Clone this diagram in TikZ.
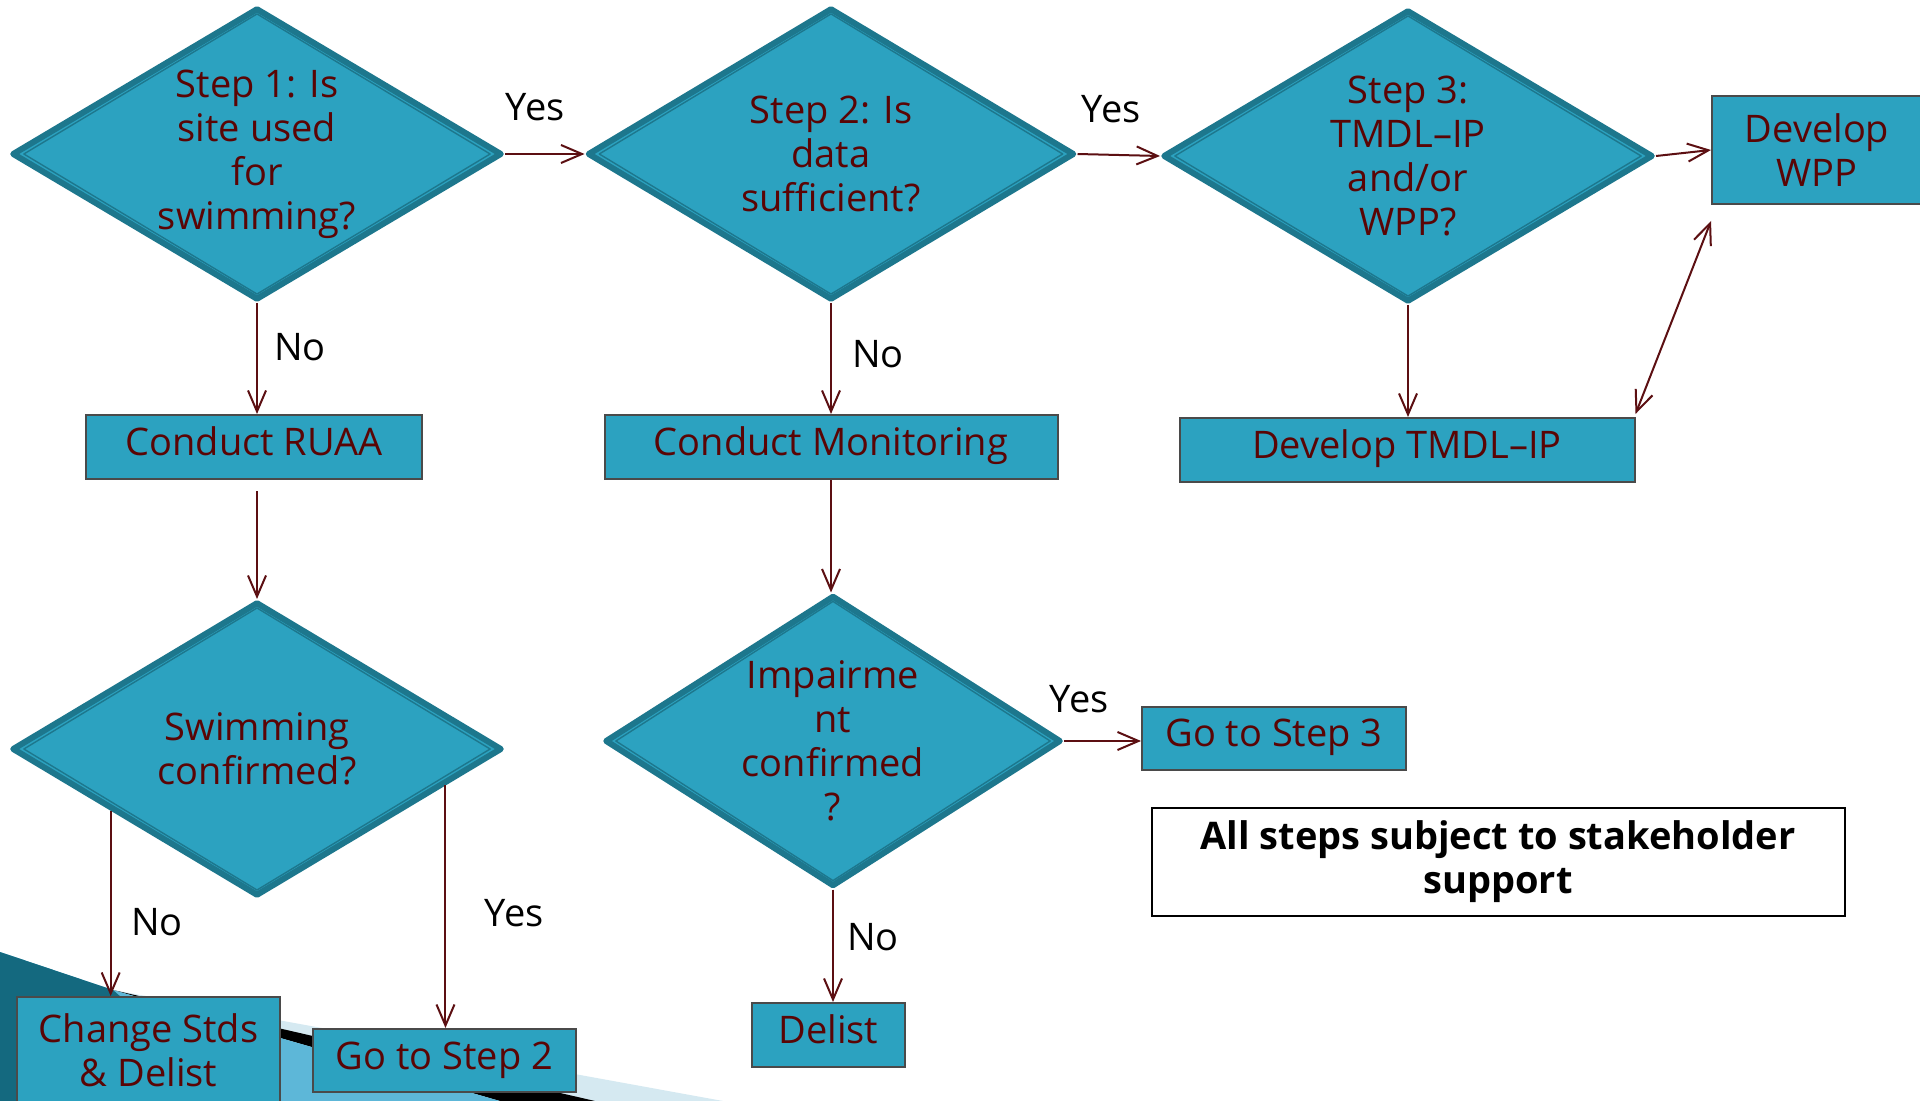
\documentclass[tikz,border=0pt]{standalone}
\usepackage{fontspec}
\setmainfont{Open Sans}
\usetikzlibrary{shapes.geometric,arrows.meta,calc}
\definecolor{tealfill}{HTML}{2CA2C0}
\definecolor{tealedge}{HTML}{1D778D}
\definecolor{boxedge}{HTML}{4A4A4A}
\definecolor{stepred}{HTML}{5A0505}
\definecolor{arrowred}{HTML}{5C0F12}
\definecolor{deepteal}{HTML}{14697F}
\definecolor{skyblue}{HTML}{5DB7D8}
\definecolor{paleblue}{HTML}{D5E9F1}
\newcommand\flowfont{\fontsize{19}{22}\selectfont}
\begin{document}
\begin{tikzpicture}[
            x=0.5pt, y=-0.5pt,
            every node/.style={font=\flowfont},
            >={Straight Barb[length=10.5pt,width=9pt]},
            decision/.style={diamond, draw=tealedge, line width=3pt, line join=round, fill=tealfill,
                text=stepred, align=center, inner sep=0pt, shape aspect=1.68,
                minimum width=245pt, minimum height=146pt},
            action/.style={rectangle, draw=boxedge, line width=1pt, fill=tealfill, text=stepred,
                align=center, minimum height=32pt},
            oneline/.style={action, execute at begin node=\strut},
            lbl/.style={text=black},
            flow/.style={draw=arrowred, line width=1pt, ->}
        ]
        \useasboundingbox (0,0) rectangle (1920,1101);
        \fill[white] (0,0) rectangle (1920,1101);
        % slide template swoosh
        \fill[paleblue] (113,990) -- (723,1101) -- (113,1101) -- cycle;
        \fill[black] (113,990) -- (595,1101) -- (500,1101) -- cycle;
        \fill[skyblue] (0,952) -- (113,990) -- (500,1101) -- (0,1101) -- cycle;
        \fill[deepteal] (0,952) -- (113,990) -- (240,1101) -- (0,1101) -- cycle;

        % decisions
        \node[decision] (d1) at (257,154) {Step 1: Is\\site used\\for\\swimming?};
        \node[decision, minimum width=243.5pt] (d2) at (831,154) {Step 2: Is\\data\\sufficient?};
        \node[decision] (d3) at (1408,156) {Step 3:\\TMDL–IP\\and/or\\WPP?};
        \node[decision, minimum height=147pt] (d4) at (257,749) {Swimming\\confirmed?};
        \node[decision, shape aspect=1.57, minimum width=228pt, minimum height=145.5pt] (d5) at (833,741) {Impairme\\nt\\confirmed\\?};
        \foreach \d in {d1,d2,d3,d4,d5}
            \draw[tealedge, line width=0.7pt, line join=round]
                ($(\d.center)!0.94!(\d.north)$) -- ($(\d.center)!0.94!(\d.east)$)
                -- ($(\d.center)!0.94!(\d.south)$) -- ($(\d.center)!0.94!(\d.west)$) -- cycle;

        % actions
        \node[action, minimum width=105pt, minimum height=54pt] (wpp) at (1817,150) {Develop\\WPP};
        \node[oneline, minimum width=168pt] (ruaa) at (254,447) {Conduct RUAA};
        \node[oneline, minimum width=226.5pt] (mon) at (831,447) {Conduct Monitoring};
        \node[oneline, minimum width=227.5pt] (tmdl) at (1407,450) {Develop TMDL–IP};
        \node[oneline, minimum width=132pt, minimum height=31.5pt] (gs3) at (1274,738) {Go to Step 3};
        \node[action, minimum width=131.5pt, minimum height=53pt] (chg) at (148.5,1050) {Change Stds\\\& Delist};
        \node[oneline, minimum width=131.5pt, minimum height=31.5pt] (gs2) at (444.5,1060.5) {Go to Step 2};
        \node[oneline, minimum width=76.5pt] (delist) at (828.5,1035) {Delist};
        \node[draw=black, line width=1pt, fill=white, align=center, font=\flowfont\bfseries,
            minimum width=346.5pt, minimum height=54pt] (note) at (1498,862)
            {All steps subject to stakeholder\\support};

        % connectors
        \coordinate (d4no) at ($(d4.west)!0.41!(d4.south)$);
        \coordinate (d4yes) at ($(d4.east)!0.24!(d4.south)$);
        \draw[flow] (d1.east) -- (d2.west);
        \draw[flow] (d2.east) -- (d3.west);
        \draw[flow] (d3.east) -- (wpp.west);
        \draw[flow] (d1.south) -- (d1.south |- ruaa.north);
        \draw[flow] (d2.south) -- (d2.south |- mon.north);
        \draw[flow] (d3.south) -- (d3.south |- tmdl.north);
        \draw[flow, <->] ([yshift=1.5pt]tmdl.north east) -- ([yshift=-8pt]wpp.south west);
        \draw[flow] ($(ruaa.south -| d4.north)+(0,11)$) -- (d4.north);
        \draw[flow] (mon.south) -- (mon.south |- d5.north);
        \draw[flow] (d4no) -- (d4no |- chg.north);
        \draw[flow] (d4yes) -- (d4yes |- gs2.north);
        \draw[flow] (d5.east) -- (d5.east -| gs3.west);
        \draw[flow] (d5.south) -- (d5.south |- delist.north);

        % branch labels
        \node[lbl] (yes1) at (535,107) {Yes};
        \node[lbl] (yes2) at (1111,109) {Yes};
        \node[lbl] (no1) at (300,347) {No};
        \node[lbl] (no2) at (878,354) {No};
        \node[lbl] (no4) at (157,922) {No};
        \node[lbl] (yes4) at (514,913) {Yes};
        \node[lbl] (yes5) at (1079,699) {Yes};
        \node[lbl] (no5) at (873,937) {No};
    \end{tikzpicture}
\end{document}
